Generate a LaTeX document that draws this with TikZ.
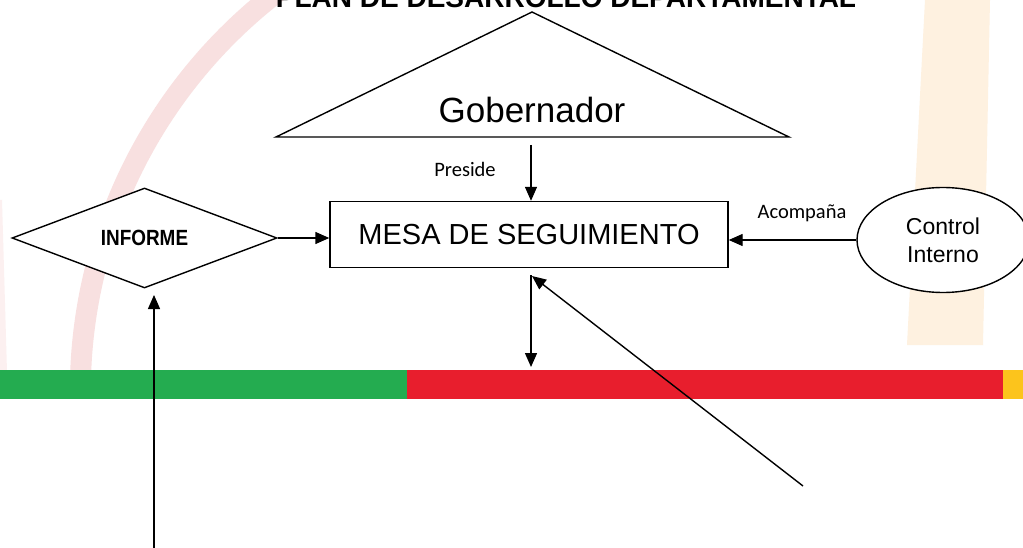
\documentclass[tikz,border=0pt]{standalone}
\usepackage{fontspec}
\setmainfont{Liberation Sans}
\newfontfamily\calfont{Carlito}
\newfontfamily\narrowsans[FakeStretch=0.86]{Liberation Sans}
\usetikzlibrary{arrows.meta,shapes.geometric}
\definecolor{barGreen}{RGB}{36,172,80}
\definecolor{barRed}{RGB}{232,30,45}
\definecolor{barYellow}{RGB}{252,196,28}
\definecolor{wmPink}{RGB}{248,224,224}
\definecolor{wmPinkFaint}{RGB}{252,240,240}
\definecolor{wmOrange}{RGB}{254,241,224}
\tikzset{
  conn/.style={line width=1.4pt,-{Triangle[length=14pt,width=12pt]}},
  shapeline/.style={draw=black,line width=1.4pt},
  smalllabel/.style={font=\calfont\fontsize{20.5}{24}\selectfont,inner sep=0pt}
}
\begin{document}
\begin{tikzpicture}[x=1pt,y=-1pt]
\useasboundingbox (0,0) rectangle (1023,548);
\clip (0,0) rectangle (1023,548);
\fill[white] (0,0) rectangle (1023,548);
% watermarks
\draw[wmPink,line width=21pt] plot[domain=180.5:236,samples=80] ({583.3+503*cos(\x)},{391.1+503*sin(\x)});
\draw[wmPinkFaint,line width=8pt] (3,372) -- (-2,200);
\fill[wmOrange] (925,0) -- (990,0) -- (983,345) -- (907,345) -- cycle;
% colour bar
\fill[barGreen] (0,370) rectangle (407,399);
\fill[barRed] (407,370) rectangle (1003,399);
\fill[barYellow] (1003,370) rectangle (1023,399);
% title (cut at the top edge, as in the reference)
\node[anchor=base,inner sep=0pt,font=\bfseries\fontsize{28}{32}\selectfont] (title) at (566,8) {PLAN DE DESARROLLO DEPARTAMENTAL};
% triangle
\coordinate (apex) at (532,12);
\coordinate (baseL) at (276,137);
\coordinate (baseR) at (789,137);
\draw[shapeline,fill=white,line join=miter] (apex) -- (baseR) -- (baseL) -- cycle;
\node[font=\fontsize{35}{40}\selectfont,inner sep=0pt] (gob) at (532,110) {Gobernador};
\coordinate (gobout) at (531,145);
% boxes
\node[shapeline,fill=white,rectangle,minimum width=398pt,minimum height=66pt,inner sep=0pt,
      font=\fontsize{29}{34}\selectfont] (mesa) at (529,234.5) {MESA DE SEGUIMIENTO};
\node[shapeline,fill=white,diamond,aspect=2.65,minimum width=265pt,minimum height=100pt,inner sep=0pt,
      font=\narrowsans\bfseries\fontsize{22}{26}\selectfont] (informe) at (144.5,238) {INFORME};
\node[shapeline,fill=white,ellipse,minimum width=172pt,minimum height=105pt,inner sep=0pt,align=center,
      font=\fontsize{23}{28}\selectfont] (control) at (943,240) {Control\\Interno};
% labels
\node[smalllabel] (preside) at (465,169) {Preside};
\node[smalllabel] (acomp) at (802,213) {Acompaña};
% connectors
\draw[conn] (gobout) -- (gobout |- mesa.north);
\draw[conn] (informe.east) -- (informe.east -| mesa.west);
\draw[conn] (control.west) -- (control.west -| mesa.east);
\coordinate (downA) at (531,275);
\coordinate (downB) at (531,367);
\draw[conn] (downA) -- (downB);
\coordinate (diagA) at (803,486);
\coordinate (diagB) at (532,276);
\draw[conn] (diagA) -- (diagB);
\coordinate (upA) at (154,552);
\coordinate (upB) at (154,295);
\draw[conn] (upA) -- (upB);
\end{tikzpicture}
\end{document}
